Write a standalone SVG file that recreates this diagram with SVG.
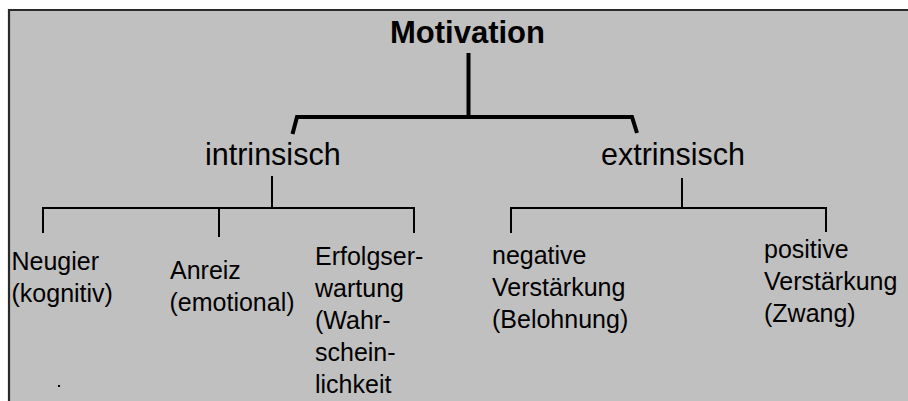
<svg xmlns="http://www.w3.org/2000/svg" width="908" height="401" viewBox="0 0 908 401">
  <style>
    text { font-family: "Liberation Sans", Arial, sans-serif; fill: #000; }
    .title { font-size: 31px; font-weight: bold; }
    .lvl1 { font-size: 30.5px; }
    .leaf { font-size: 25px; }
    .thick { fill: none; stroke: #000; stroke-width: 4; stroke-linejoin: miter; }
    .thin { fill: none; stroke: #000; stroke-width: 2; }
  </style>
  <rect x="0" y="0" width="908" height="401" fill="#ffffff"/>
  <rect x="9" y="10" width="899" height="391" fill="#c0c0c0"/>
  <path d="M9 401 V10 H908" fill="none" stroke="#2a2a2a" stroke-width="2.2"/>

  <g id="connectors">
    <line class="thick" x1="468.5" y1="53" x2="468.5" y2="117"/>
    <path class="thick" d="M292.5 134 L297 117 H632 L637 133"/>
    <line class="thin" x1="272" y1="176" x2="272" y2="208"/>
    <path class="thin" d="M43 233 V208 H414 V233"/>
    <line class="thin" x1="219" y1="208" x2="219" y2="237"/>
    <line class="thin" x1="682" y1="178" x2="682" y2="208"/>
    <path class="thin" d="M511 233 V208 H826 V232"/>
  </g>

  <g id="motivation">
    <text class="title" x="467.5" y="43" text-anchor="middle">Motivation</text>
  </g>
  <g id="intrinsisch">
    <text class="lvl1" x="205" y="165">intrinsisch</text>
  </g>
  <g id="extrinsisch">
    <text class="lvl1" x="601" y="165">extrinsisch</text>
  </g>
  <g id="neugier">
    <text class="leaf" x="11.5" y="270">Neugier</text>
    <text class="leaf" x="11.5" y="302">(kognitiv)</text>
    <rect x="58" y="385" width="2" height="2" fill="#000"/>
  </g>
  <g id="anreiz">
    <text class="leaf" x="170" y="279">Anreiz</text>
    <text class="leaf" x="169.5" y="311">(emotional)</text>
  </g>
  <g id="erfolgserwartung">
    <text class="leaf" x="315" y="265">Erfolgser-</text>
    <text class="leaf" x="315" y="297">wartung</text>
    <text class="leaf" x="315" y="329">(Wahr-</text>
    <text class="leaf" x="315" y="361">schein-</text>
    <text class="leaf" x="315" y="393">lichkeit</text>
  </g>
  <g id="negative">
    <text class="leaf" x="492" y="264">negative</text>
    <text class="leaf" x="492" y="296">Verstärkung</text>
    <text class="leaf" x="492" y="328">(Belohnung)</text>
  </g>
  <g id="positive">
    <text class="leaf" x="764" y="258">positive</text>
    <text class="leaf" x="764" y="290">Verstärkung</text>
    <text class="leaf" x="764" y="322">(Zwang)</text>
  </g>
</svg>
